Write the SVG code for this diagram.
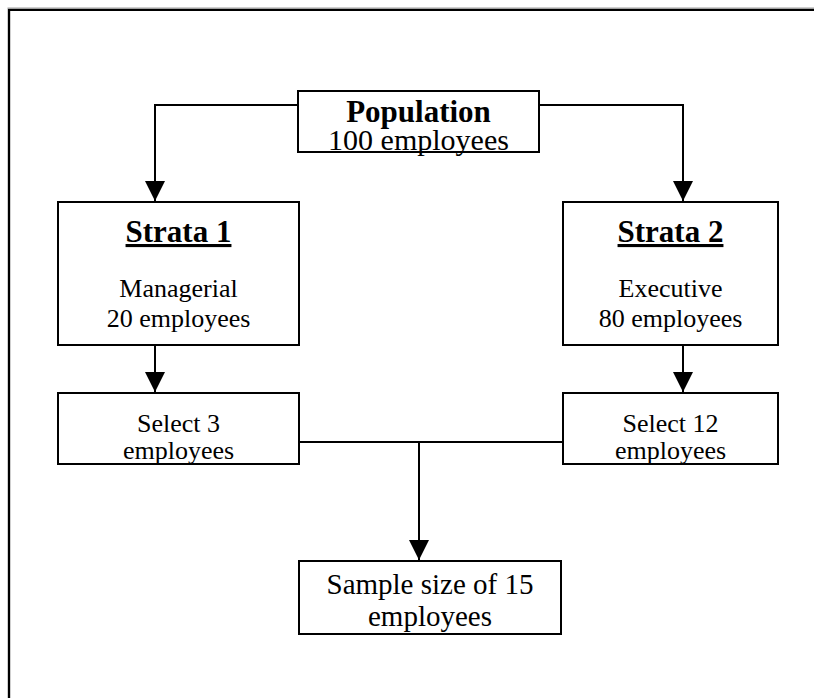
<svg xmlns="http://www.w3.org/2000/svg" width="814" height="698" viewBox="0 0 814 698">
  <style>
    .box { fill: #ffffff; stroke: #000000; stroke-width: 2; }
    .wire { fill: none; stroke: #000000; stroke-width: 2; }
    .t { font-family: "Liberation Serif", "Times New Roman", serif; fill: #000000; text-anchor: middle; }
    .title { font-weight: bold; font-size: 31px; }
    .big { font-size: 30px; }
    .body { font-size: 26px; }
    .sample { font-size: 29px; }
  </style>
  <defs>
    <marker id="arrow" markerUnits="userSpaceOnUse" markerWidth="20" markerHeight="20" refX="20" refY="10" orient="auto">
      <path d="M0,0 L20,10 L0,20 Z" fill="#000000"/>
    </marker>
  </defs>

  <rect width="814" height="698" fill="#ffffff"/>

  <!-- page frame (only top and left edges fall inside the view) -->
  <g id="frame">
    <path d="M9,700 V9 H816" fill="none" stroke="#a0a0a0" stroke-width="3"/>
    <path d="M9,700 V10 H816" fill="none" stroke="#000000" stroke-width="2"/>
  </g>

  <!-- connectors -->
  <g id="connectors">
    <path class="wire" d="M298,105 H155 V201" marker-end="url(#arrow)"/>
    <path class="wire" d="M539,105 H683 V201" marker-end="url(#arrow)"/>
    <path class="wire" d="M155,345 V392" marker-end="url(#arrow)"/>
    <path class="wire" d="M683,345 V392" marker-end="url(#arrow)"/>
    <path class="wire" d="M299,442 H563"/>
    <path class="wire" d="M419,442 V560" marker-end="url(#arrow)"/>
  </g>

  <g id="population">
    <rect class="box" x="298" y="91" width="241" height="61"/>
    <text class="t title" x="418.5" y="122">Population</text>
    <text class="t big" x="418.5" y="150">100 employees</text>
  </g>

  <g id="strata1">
    <rect class="box" x="58" y="202" width="241" height="143"/>
    <text class="t title" x="178.5" y="242" text-decoration="underline">Strata 1</text>
    <text class="t body" x="178.5" y="297">Managerial</text>
    <text class="t body" x="178.5" y="327">20 employees</text>
  </g>

  <g id="strata2">
    <rect class="box" x="563" y="202" width="215" height="143"/>
    <text class="t title" x="670.5" y="242" text-decoration="underline">Strata 2</text>
    <text class="t body" x="670.5" y="297">Executive</text>
    <text class="t body" x="670.5" y="327">80 employees</text>
  </g>

  <g id="select1">
    <rect class="box" x="58" y="393" width="241" height="71"/>
    <text class="t body" x="178.5" y="432">Select 3</text>
    <text class="t body" x="178.5" y="459">employees</text>
  </g>

  <g id="select2">
    <rect class="box" x="563" y="393" width="215" height="71"/>
    <text class="t body" x="670.5" y="432">Select 12</text>
    <text class="t body" x="670.5" y="459">employees</text>
  </g>

  <g id="sample">
    <rect class="box" x="299" y="561" width="262" height="73"/>
    <text class="t sample" x="430" y="594">Sample size of 15</text>
    <text class="t sample" x="430" y="626">employees</text>
  </g>
</svg>
